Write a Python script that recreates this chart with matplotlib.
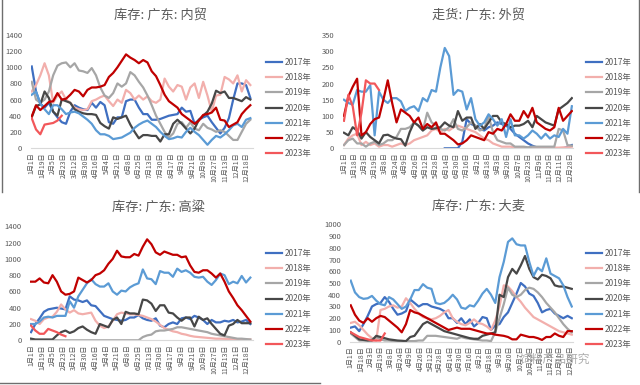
import re
from datetime import date
import numpy as np
import matplotlib
matplotlib.use("Agg")
import matplotlib.pyplot as plt
from matplotlib.lines import Line2D

plt.rcParams['font.family'] = ['Noto Sans CJK SC', 'DejaVu Sans']

years = ['2017年', '2018年', '2019年', '2020年', '2021年', '2022年', '2023年']
colors = ['#3F6FC1', '#F2AFAC', '#A6A6A6', '#474747', '#5B9BD5', '#C00000', '#F2575A']

# week-by-week values (first point = 1月1日)
neimao_2017 = [1010,700,550,500,560,450,380,320,300,450,530,500,480,470,560,500,570,530,320,300,380,380,580,600,600,500,420,420,350,350,360,380,400,410,420,500,450,460,300,350,380,400,320,250,180,250,370,600,800,800,780,620]
neimao_2018 = [700,780,900,1050,900,560,650,700,600,560,500,480,470,480,580,600,630,650,580,520,600,560,720,680,600,650,600,640,580,560,600,860,760,700,780,760,600,750,800,620,820,650,450,650,660,880,850,800,900,700,840,780]
neimao_2019 = [820,600,560,600,700,900,1020,1050,1060,1000,1050,960,950,930,990,900,750,650,620,680,800,760,800,940,900,820,750,650,530,400,300,200,130,180,300,320,250,320,240,220,300,250,230,200,220,200,150,100,100,200,300,350]
neimao_2020 = [380,520,540,700,620,450,400,600,580,560,480,450,430,420,420,410,310,270,240,380,360,380,400,290,200,120,160,160,150,150,80,170,170,300,350,300,240,180,240,350,400,450,550,710,680,700,620,620,600,580,630,600]
neimao_2021 = [660,700,550,480,420,530,530,480,420,440,450,430,390,350,300,220,170,170,150,110,120,130,160,190,250,290,320,340,300,260,200,150,110,120,140,130,200,250,200,160,100,40,100,150,130,170,220,280,300,260,350,370]
neimao_2022 = [390,530,470,520,570,580,680,600,610,660,720,700,640,720,750,750,760,780,880,930,1000,1080,1160,1120,1090,1050,1090,1060,950,890,780,660,580,540,500,420,380,340,300,340,410,420,440,500,350,340,260,290,320,420,480,530]
neimao_2023 = [370,230,170,290,300,310,340,400]

waimao_2017 = [np.nan] * 23 + [0,0,0,0,20,90,75,70,60,55,65,70,80,75,70,60,45,35,25,15,8,3,0,0,0,0,0,0,5,10]
waimao_2018 = [10,30,40,45,10,20,10,15,5,10,10,5,10,15,10,15,25,30,35,40,55,60,50,60,55,65,70,65,60,55,50,40,30,25,15,10,5,5,5,3,2,2,2,2,2,2,2,2,2,2,3,3,5]
waimao_2019 = [10,25,30,15,15,5,15,20,10,15,25,25,35,60,60,65,80,70,55,110,80,70,60,55,65,90,60,55,65,80,70,55,60,100,50,25,20,15,15,5,5,5,3,5,5,5,5,5,5,60,55,10,8]
waimao_2020 = [48,40,65,55,30,50,35,25,15,40,42,35,30,28,8,50,80,70,55,65,60,62,65,80,70,65,115,85,95,95,60,75,60,80,100,100,80,75,65,70,70,75,85,65,100,90,80,75,70,120,130,140,155]
waimao_2021 = [150,140,135,180,175,175,195,40,175,150,140,155,155,145,115,125,130,115,155,145,180,175,250,310,285,165,180,175,120,155,90,70,80,105,90,70,90,35,90,40,40,30,40,55,45,30,45,30,40,35,60,45,130]
waimao_2022 = [100,160,190,215,40,50,75,90,95,150,210,140,80,120,110,100,80,95,60,75,65,80,45,45,35,25,12,15,25,40,35,30,25,50,45,60,55,75,105,85,85,115,95,125,80,70,60,55,65,125,85,100,115]
waimao_2023 = [85,165,130,40,110,210,200,200,180]

gaoliang_2017 = [100,200,270,350,380,390,400,390,380,540,500,490,470,490,430,420,360,300,280,260,250,240,250,280,280,310,270,250,240,270,180,160,200,220,200,270,280,260,300,280,250,200,250,220,220,240,230,250,220,230,250,200]
gaoliang_2018 = [260,240,200,260,280,290,350,440,380,340,370,330,320,330,340,240,180,150,170,240,320,340,330,320,320,310,300,280,260,230,190,150,130,110,100,80,70,55,45,40,35,30,25,20,20,18,15,12,10,10,10,10]
gaoliang_2019 = [0] * 26 + [40,60,70,110,120,120,130,140,160,160,150,140,130,120,110,100,80,70,60,50,40,30,20,20,15,10]
gaoliang_2020 = [20,10,10,10,10,10,60,100,120,90,110,150,170,130,100,80,200,180,160,250,280,200,350,330,330,320,500,490,450,360,430,430,340,330,280,240,280,280,170,290,250,270,200,140,80,60,180,200,250,210,210,210]
gaoliang_2021 = [200,200,230,280,290,280,300,300,300,480,400,540,620,700,750,690,660,660,700,600,560,610,600,650,680,700,870,760,750,690,850,830,830,780,880,840,860,830,780,770,780,720,680,740,820,800,690,720,700,790,710,770]
gaoliang_2022 = [720,720,760,710,700,800,720,600,560,570,600,770,740,710,740,800,820,860,940,1000,1100,1030,1020,1020,1060,1040,1150,1240,1180,1080,1050,1090,1070,1050,1050,1020,1030,920,840,830,860,860,820,770,820,720,600,520,430,370,300,230]
gaoliang_2023 = [180,120,80,80,140,120,100,70,50]

damai_2017 = [120,130,90,150,220,300,320,330,380,340,280,230,240,260,360,330,300,320,320,300,290,280,260,200,200,160,200,150,190,130,160,210,200,100,140,150,210,250,330,410,500,470,410,390,330,250,270,280,240,220,200,220,200]
damai_2018 = [160,170,140,100,60,30,10,270,280,300,310,290,300,370,330,280,240,210,200,190,200,220,250,270,200,170,150,140,160,190,160,150,130,100,180,300,480,470,430,380,340,290,250,210,190,170,150,130,110,90,80,70,60]
damai_2019 = [70,40,10,10,10,20,40,20,10,10,5,5,5,5,5,5,10,10,50,50,50,45,40,35,30,25,40,30,25,20,15,10,10,5,80,200,320,460,400,380,400,440,460,450,420,380,330,290,250,200,150,110,80]
damai_2020 = [80,50,20,15,10,10,50,40,30,20,15,10,8,5,40,50,100,150,170,150,130,110,90,80,70,60,50,40,30,25,25,50,60,70,80,400,380,550,620,580,650,730,620,550,530,570,560,540,480,470,470,460,450]
damai_2021 = [520,420,380,365,370,390,350,320,310,380,360,320,280,300,360,440,440,490,460,450,330,320,330,360,400,360,290,280,310,300,350,410,450,400,330,550,680,850,880,830,820,820,680,560,630,600,710,580,560,540,480,380,300]
damai_2022 = [310,230,180,160,200,170,200,220,210,180,150,120,80,150,270,250,240,220,200,180,160,140,120,100,110,120,110,110,110,100,90,80,70,70,60,55,50,40,20,20,60,50,40,40,30,15,40,40,70,50,40,90,90]
damai_2023 = [80,60,40,30,20,10,10,10,70]

ticks_a = ['1月1日','1月19日','2月5日','2月23日','3月12日','3月30日','4月16日','5月4日','5月21日','6月8日','6月25日',
           '7月13日','7月30日','8月17日','9月3日','9月21日','10月9日','10月27日','11月13日','12月1日','12月18日']
ticks_b = ['1月1日','1月18日','2月3日','2月19日','3月8日','3月24日','4月9日','4月26日','5月12日','5月28日','6月14日','6月30日',
           '7月16日','8月2日','8月18日','9月3日','9月20日','10月7日','10月23日','11月9日','11月25日','12月11日','12月28日']

TXT = '#595959'


def day_of(lbl):
    m, d = map(int, re.findall(r'\d+', lbl))
    return (date(2021, m, d) - date(2021, 1, 1)).days


def px_axes(fig, l, t, r, b):
    return fig.add_axes([l / 640, 1 - b / 385, (r - l) / 640, (b - t) / 385])


def panel(ax, series, ticks, ymax, ystep, xmax, leg_xy):
    lines = []
    for vals, col, yr in zip(series, colors, years):
        x = np.arange(len(vals)) * 7
        ln, = ax.plot(x, vals, color=col, lw=1.6, label=yr, solid_joinstyle='round')
        lines.append(ln)
    ax.set_xlim(-2, xmax)
    ax.set_ylim(0, ymax)
    ax.set_yticks(np.arange(0, ymax + 1, ystep))
    ax.set_xticks([day_of(t) for t in ticks])
    ax.set_xticklabels(ticks, rotation=90)
    ax.tick_params(axis='x', length=0, pad=3, labelsize=5, labelcolor=TXT)
    ax.tick_params(axis='y', length=0, pad=6, labelsize=5.5, labelcolor=TXT)
    for s in ['top', 'right', 'left']:
        ax.spines[s].set_visible(False)
    ax.spines['bottom'].set_color('#D9D9D9')
    ax.spines['bottom'].set_linewidth(0.8)
    ax.legend(handles=lines, loc='upper left', bbox_to_anchor=(leg_xy[0] / 640, 1 - leg_xy[1] / 385),
              bbox_transform=ax.figure.transFigure, frameon=False, fontsize=6,
              handlelength=1.9, handletextpad=0.3, labelspacing=0.74, borderpad=0, borderaxespad=0,
              labelcolor=TXT)


fig = plt.figure(figsize=(6.4, 3.85), dpi=100)

ax1 = px_axes(fig, 30.5, 35, 253.4, 148)
panel(ax1, [neimao_2017, neimao_2018, neimao_2019, neimao_2020, neimao_2021, neimao_2022, neimao_2023],
      ticks_a, 1400, 200, 362, (266, 58))
fig.text(160 / 640, 1 - 15 / 385, '库存: 广东: 内贸', ha='center', va='center', fontsize=9.5, color=TXT)

ax2 = px_axes(fig, 342.7, 35, 573.1, 148.3)
panel(ax2, [waimao_2017, waimao_2018, waimao_2019, waimao_2020, waimao_2021, waimao_2022, waimao_2023],
      ticks_b, 350, 50, 366, (586, 58))
fig.text(479 / 640, 1 - 15 / 385, '走货: 广东: 外贸', ha='center', va='center', fontsize=9.5, color=TXT)

ax3 = px_axes(fig, 29.8, 226.3, 253.4, 340.3)
panel(ax3, [gaoliang_2017, gaoliang_2018, gaoliang_2019, gaoliang_2020, gaoliang_2021, gaoliang_2022, gaoliang_2023],
      ticks_a, 1400, 200, 362, (266, 249))
fig.text(159 / 640, 1 - 207 / 385, '库存: 广东: 高粱', ha='center', va='center', fontsize=9.5, color=TXT)

ax4 = px_axes(fig, 349.5, 224.3, 573, 341.7)
panel(ax4, [damai_2017, damai_2018, damai_2019, damai_2020, damai_2021, damai_2022, damai_2023],
      ticks_b, 1000, 100, 366, (586, 249))
fig.text(478 / 640, 1 - 206 / 385, '库存: 广东: 大麦', ha='center', va='center', fontsize=9.5, color=TXT)

# watermark (sits over the tick labels, as in the source screenshot)
fig.text(520 / 640, 1 - 359 / 385, '饲料产品研究', ha='left', va='center', fontsize=8.5,
         color='#9A9A9A', alpha=0.8)

# screenshot borders
fig.add_artist(Line2D([1.5 / 640, 1.5 / 640], [1, 1 - 192 / 385], color='#6E6E6E', lw=1))
fig.add_artist(Line2D([638.5 / 640, 638.5 / 640], [1, 1 - 192 / 385], color='#6E6E6E', lw=1))
fig.add_artist(Line2D([0, 320 / 640], [1 - 383 / 385, 1 - 383 / 385], color='#6E6E6E', lw=1))

fig.savefig('out.png', dpi=100)
